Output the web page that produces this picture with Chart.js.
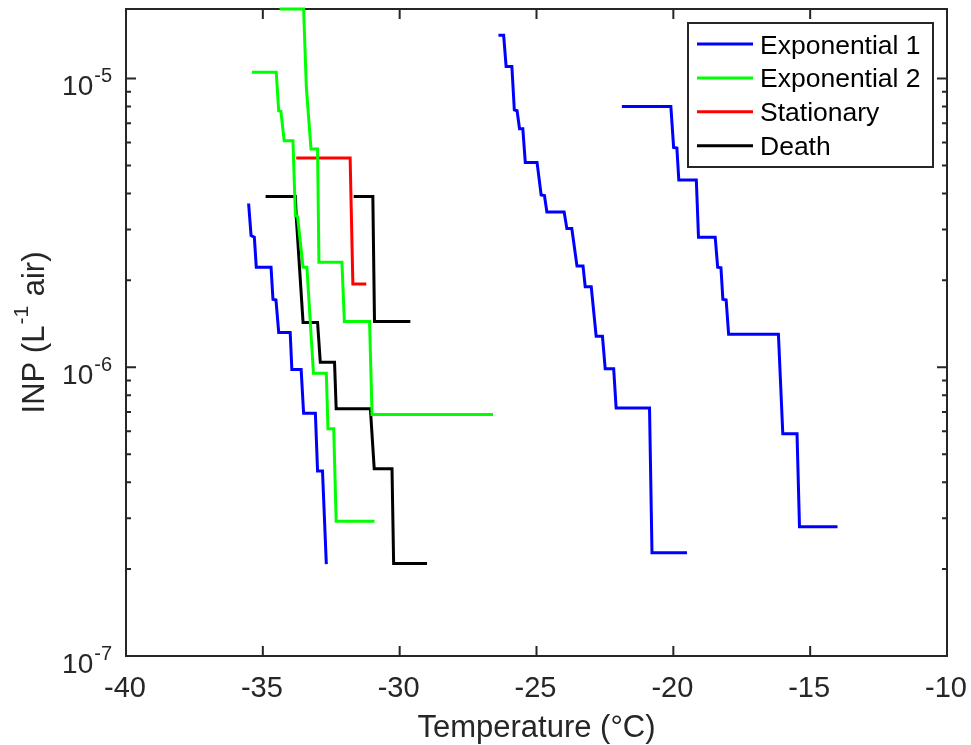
<!DOCTYPE html>
<html>
<head>
<meta charset="utf-8">
<script src="https://cdn.jsdelivr.net/npm/chart.js@4.4.0/dist/chart.umd.min.js"></script>
<style>
  html, body { margin: 0; padding: 0; background: #fff; }
</style>
</head>
<body>
<canvas id="inpChart" width="971" height="745"></canvas>
<script>
// Series names and colours (legend order)
const seriesNames = ["Exponential 1", "Exponential 2", "Stationary", "Death"];
const seriesColors = ["#0000ff", "#00ff00", "#ff0000", "#000000"];

// Temperature (°C) / INP (L^-1 air), one pair of arrays per curve
const exp1aTemp = [-35.52, -35.43, -35.31, -35.24, -34.70, -34.63, -34.52, -34.42, -34.00, -33.94, -33.60, -33.51, -33.08, -33.00, -32.82, -32.68];
const exp1aInp  = [3.69e-6, 2.86e-6, 2.82e-6, 2.22e-6, 2.22e-6, 1.72e-6, 1.71e-6, 1.32e-6, 1.32e-6, 9.82e-7, 9.82e-7, 6.93e-7, 6.93e-7, 4.37e-7, 4.37e-7, 2.08e-7];

const exp1bTemp = [-26.39, -26.20, -26.11, -25.90, -25.81, -25.71, -25.62, -25.50, -25.41, -24.98, -24.83, -24.71, -24.62, -23.99, -23.89, -23.71, -23.52, -23.30, -23.22, -23.00, -22.82, -22.59, -22.49, -22.18, -22.09, -20.87, -20.78, -19.50];
const exp1bInp  = [1.41e-5, 1.41e-5, 1.10e-5, 1.10e-5, 7.78e-6, 7.73e-6, 6.70e-6, 6.70e-6, 5.12e-6, 5.12e-6, 3.95e-6, 3.93e-6, 3.45e-6, 3.45e-6, 3.02e-6, 3.02e-6, 2.24e-6, 2.24e-6, 1.90e-6, 1.90e-6, 1.28e-6, 1.28e-6, 9.88e-7, 9.88e-7, 7.22e-7, 7.22e-7, 2.28e-7, 2.28e-7];

const exp1cTemp = [-21.88, -20.09, -19.99, -19.87, -19.80, -19.16, -19.08, -18.47, -18.38, -18.26, -18.19, -18.07, -17.98, -16.16, -16.00, -15.48, -15.39, -14.00];
const exp1cInp  = [8.0e-6, 8.0e-6, 5.77e-6, 5.74e-6, 4.45e-6, 4.45e-6, 2.82e-6, 2.82e-6, 2.22e-6, 2.21e-6, 1.72e-6, 1.71e-6, 1.30e-6, 1.30e-6, 5.88e-7, 5.88e-7, 2.80e-7, 2.80e-7];

const exp2aTemp = [-35.40, -34.51, -34.42, -34.34, -34.22, -33.90, -33.81, -33.73, -33.53, -33.39, -33.15, -32.68, -32.62, -32.41, -32.32, -30.92];
const exp2aInp  = [1.05e-5, 1.05e-5, 7.73e-6, 7.69e-6, 6.09e-6, 6.09e-6, 3.35e-6, 3.32e-6, 2.22e-6, 2.22e-6, 9.53e-7, 9.53e-7, 6.12e-7, 6.12e-7, 2.93e-7, 2.93e-7];

const exp2bTemp = [-34.39, -33.51, -33.41, -33.24, -33.00, -32.95, -32.11, -32.02, -31.10, -31.01, -26.59];
const exp2bInp  = [1.74e-5, 1.74e-5, 9.31e-6, 5.70e-6, 5.70e-6, 2.31e-6, 2.31e-6, 1.44e-6, 1.44e-6, 6.86e-7, 6.86e-7];

const statTemp = [-33.78, -31.81, -31.71, -31.22];
const statInp  = [5.30e-6, 5.30e-6, 1.94e-6, 1.94e-6];

const deathaTemp = [-34.90, -33.81, -33.78, -33.53, -33.00, -32.90, -32.38, -32.32, -31.07, -30.93, -30.28, -30.22, -29.00];
const deathaInp  = [3.90e-6, 3.90e-6, 3.32e-6, 1.43e-6, 1.43e-6, 1.04e-6, 1.04e-6, 7.18e-7, 7.18e-7, 4.45e-7, 4.45e-7, 2.09e-7, 2.09e-7];

const deathbTemp = [-31.68, -30.98, -30.92, -29.61];
const deathbInp  = [3.90e-6, 3.90e-6, 1.44e-6, 1.44e-6];

// Axis ticks
const xTicks = [-40, -35, -30, -25, -20, -15, -10];
const yDecades = [-7, -6, -5];
const xMin = -40, xMax = -10;
const yMin = 1e-7, yMax = 1.74e-5;

const FONT = "'Liberation Sans', Arial, Helvetica, sans-serif";
const AXIS_COLOR = "#262626";

// curve -> series index
const curves = [
  [exp1aTemp, exp1aInp, 0],
  [exp1bTemp, exp1bInp, 0],
  [exp1cTemp, exp1cInp, 0],
  [exp2aTemp, exp2aInp, 1],
  [exp2bTemp, exp2bInp, 1],
  [statTemp, statInp, 2],
  [deathaTemp, deathaInp, 3],
  [deathbTemp, deathbInp, 3]
];

const datasets = curves.map(function (c) {
  return {
    label: seriesNames[c[2]],
    data: c[0].map(function (t, i) { return { x: t, y: c[1][i] }; }),
    borderColor: seriesColors[c[2]],
    backgroundColor: seriesColors[c[2]],
    borderWidth: 3,
    pointRadius: 0,
    tension: 0,
    fill: false,
    clip: 5
  };
});

// Draw "10" with a raised exponent, right aligned at xRight
function drawPow(ctx, exp, xRight, yPix) {
  ctx.textAlign = "left";
  ctx.textBaseline = "alphabetic";
  ctx.font = "20px " + FONT;
  const expStr = String(exp);
  const ew = ctx.measureText(expStr).width;
  ctx.font = "28px " + FONT;
  const bw = ctx.measureText("10").width;
  const x0 = xRight - ew - bw - 1;
  ctx.fillText("10", x0, yPix + 16.5);
  ctx.font = "20px " + FONT;
  ctx.fillText(expStr, x0 + bw + 1, yPix + 3.5);
}

// Frame, inward ticks, tick labels and axis titles (MATLAB look)
const axesPlugin = {
  id: "matlabAxes",
  beforeDatasetsDraw: function (chart) {
    const ctx = chart.ctx;
    const a = chart.chartArea;
    const xs = chart.scales.x;
    const ys = chart.scales.y;
    ctx.save();
    ctx.strokeStyle = AXIS_COLOR;
    ctx.lineWidth = 2;
    ctx.strokeRect(a.left, a.top, a.right - a.left, a.bottom - a.top);

    ctx.beginPath();
    xTicks.forEach(function (v) {
      const px = xs.getPixelForValue(v);
      ctx.moveTo(px, a.bottom); ctx.lineTo(px, a.bottom - 10);
      ctx.moveTo(px, a.top); ctx.lineTo(px, a.top + 10);
    });
    yDecades.forEach(function (n) {
      for (let m = 1; m <= 9; m++) {
        const v = m * Math.pow(10, n);
        if (v < yMin || v > yMax) continue;
        const py = ys.getPixelForValue(v);
        const len = m === 1 ? 10 : 5;
        ctx.moveTo(a.left, py); ctx.lineTo(a.left + len, py);
        ctx.moveTo(a.right, py); ctx.lineTo(a.right - len, py);
      }
    });
    ctx.stroke();

    ctx.fillStyle = AXIS_COLOR;
    ctx.font = "29px " + FONT;
    ctx.textAlign = "center";
    ctx.textBaseline = "alphabetic";
    xTicks.forEach(function (v) {
      ctx.fillText(String(v), xs.getPixelForValue(v) - 1, 697);
    });
    yDecades.forEach(function (n) {
      drawPow(ctx, n, 112, ys.getPixelForValue(Math.pow(10, n)));
    });

    // x title
    ctx.font = "31px " + FONT;
    ctx.textAlign = "center";
    ctx.fillText("Temperature (\u00B0C)", (a.left + a.right) / 2, 736.5);

    // y title with superscript
    ctx.translate(43.5, (a.top + a.bottom) / 2);
    ctx.rotate(-Math.PI / 2);
    ctx.textAlign = "left";
    const p1 = "INP (L", sup = "-1", p2 = " air)";
    ctx.font = "31px " + FONT;
    const w1 = ctx.measureText(p1).width;
    const w2 = ctx.measureText(p2).width;
    ctx.font = "21px " + FONT;
    const ws = ctx.measureText(sup).width;
    let x = -(w1 + ws + w2 + 2) / 2;
    ctx.font = "31px " + FONT;
    ctx.fillText(p1, x, 0);
    x += w1 + 1;
    ctx.font = "21px " + FONT;
    ctx.fillText(sup, x, -16);
    x += ws + 1;
    ctx.font = "31px " + FONT;
    ctx.fillText(p2, x, 0);
    ctx.restore();
  }
};

// Boxed legend in the upper right, one entry per series name
const legendPlugin = {
  id: "boxLegend",
  afterDatasetsDraw: function (chart) {
    const ctx = chart.ctx;
    ctx.save();
    ctx.fillStyle = "#ffffff";
    ctx.fillRect(688, 23, 245, 144);
    ctx.strokeStyle = AXIS_COLOR;
    ctx.lineWidth = 2;
    ctx.strokeRect(688, 23, 245, 144);
    ctx.font = "26.5px " + FONT;
    ctx.textAlign = "left";
    ctx.textBaseline = "alphabetic";
    seriesNames.forEach(function (name, i) {
      const cy = 44 + i * 33.9;
      ctx.strokeStyle = seriesColors[i];
      ctx.lineWidth = 3;
      ctx.beginPath();
      ctx.moveTo(697, cy);
      ctx.lineTo(753, cy);
      ctx.stroke();
      ctx.fillStyle = "#000000";
      ctx.fillText(name, 760, cy + 9.5);
    });
    ctx.restore();
  }
};

new Chart(document.getElementById("inpChart"), {
  type: "line",
  data: { datasets: datasets },
  plugins: [axesPlugin, legendPlugin],
  options: {
    responsive: false,
    animation: false,
    events: [],
    layout: { padding: { top: 9, right: 24, left: 0, bottom: 0 } },
    plugins: {
      legend: { display: false },
      tooltip: { enabled: false },
      title: { display: false }
    },
    scales: {
      x: {
        type: "linear",
        min: xMin,
        max: xMax,
        ticks: { display: false },
        grid: { display: false },
        border: { display: false },
        afterFit: function (s) { s.height = 89; }
      },
      y: {
        type: "logarithmic",
        min: yMin,
        max: yMax,
        ticks: { display: false },
        grid: { display: false },
        border: { display: false },
        afterFit: function (s) { s.width = 126; }
      }
    }
  }
});
</script>
</body>
</html>
